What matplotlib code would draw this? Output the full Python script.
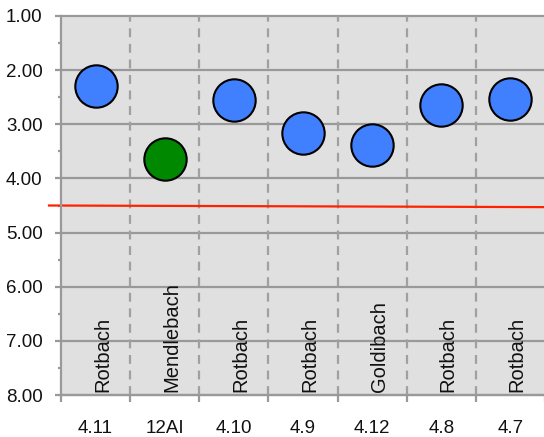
import matplotlib
matplotlib.use("Agg")
import matplotlib.pyplot as plt
from matplotlib.transforms import ScaledTranslation
from matplotlib.ticker import MultipleLocator, FixedLocator, FuncFormatter
import numpy as np

categories = ["4.11", "12AI", "4.10", "4.9", "4.12", "4.8", "4.7"]
names = ["Rotbach", "Mendlebach", "Rotbach", "Rotbach", "Goldibach", "Rotbach", "Rotbach"]
values = [2.30, 3.64, 2.55, 3.17, 3.38, 2.64, 2.53]
colors = ["#4080FF", "#008800", "#4080FF", "#4080FF", "#4080FF", "#4080FF", "#4080FF"]
threshold = [4.50, 4.53]

plt.rcParams['font.family'] = ['Liberation Sans', 'DejaVu Sans']

fig = plt.figure(figsize=(5.44, 4.37), dpi=100)
ax = fig.add_axes([61/544, 42/437, 484/544, 379/437])
ax.set_facecolor("#E0E0E0")

x = np.arange(len(categories))
ax.set_xlim(-0.5, len(categories) - 0.5)
ax.set_ylim(8.0, 1.0)

# grid
for yv in np.arange(1, 9):
    ax.axhline(yv, color="#999999", lw=1.6, zorder=1, clip_on=False)
for b in np.arange(0.5, len(categories) - 0.5, 1.0):
    ax.axvline(b, color="#A0A0A0", lw=1.6, ls=(0, (4, 3)), zorder=1)

# threshold line
ax.plot([-0.5 - 12/69.2, len(categories) - 0.5], threshold, color="#FF2200", lw=1.6,
        zorder=2, clip_on=False)

for xi, v, c in zip(x, values, colors):
    ax.plot(xi, v, 'o', ms=30.5, mfc=c, mec="black", mew=1.5, zorder=3)

tr = ax.transData + ScaledTranslation(12.4/100, 3/100, fig.dpi_scale_trans)
for xi, n in zip(x, names):
    ax.text(xi, 8.0, n, transform=tr, rotation=90, rotation_mode='anchor',
            ha='left', va='baseline', fontsize=14.5, color="#111111", zorder=4)

for s in ["top", "right"]:
    ax.spines[s].set_visible(False)
for s in ["left", "bottom"]:
    ax.spines[s].set_color("#999999")
    ax.spines[s].set_linewidth(1.6)

ax.yaxis.set_major_locator(MultipleLocator(1.0))
ax.yaxis.set_minor_locator(MultipleLocator(0.5))
ax.yaxis.set_major_formatter(FuncFormatter(lambda v, p: f"{v:.2f}"))
ax.tick_params(axis='y', which='major', length=6*0.72, width=1.6, color="#999999",
               labelsize=13.5, pad=9, labelcolor="#111111")
ax.tick_params(axis='y', which='minor', length=3*0.72, width=1.6, color="#999999")

ax.set_xticks(x)
ax.set_xticklabels(categories)
ax.xaxis.set_minor_locator(FixedLocator(np.arange(-0.5, len(categories), 1.0)))
ax.tick_params(axis='x', which='major', length=0, labelsize=13.5, pad=25*0.72,
               labelcolor="#111111")
ax.tick_params(axis='x', which='minor', length=7*0.72, width=1.6, color="#999999")

fig.savefig("out.png", dpi=100)
